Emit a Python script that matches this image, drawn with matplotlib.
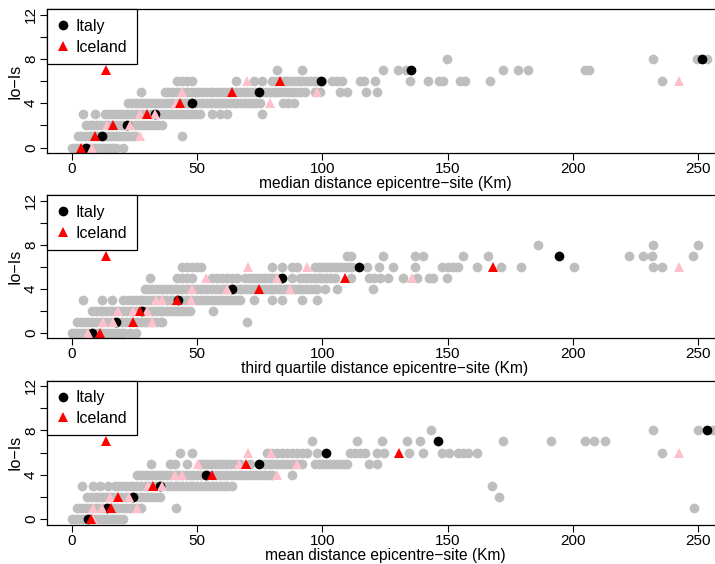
import matplotlib
matplotlib.use('Agg')
import matplotlib.pyplot as plt
from matplotlib.lines import Line2D

plt.rcParams['font.family'] = ['Liberation Sans', 'DejaVu Sans']

GRAY = '#BEBEBE'
PINK = '#FFC0CB'
RED = '#FF0000'

# --------------------------
# median distance panel
# --------------------------
# gray points, one list per Io-Is level (0..8)
median_gray = [
    [0, 1.2, 2.5, 3.8, 5, 6.3, 7.5, 8.8, 10, 11.3, 12.5, 13.8, 15, 16.3, 17.5, 20.5],
    [2.4, 3.7, 5, 6.2, 7.5, 8.8, 10, 11.3, 12.5, 13.8, 15, 16.3, 17.5, 18.8, 20, 21.3, 22.5, 23.8, 25, 44],
    [5.5, 7, 8.5, 10, 11.5, 13, 14.5, 16, 17.5, 19, 20.5, 22, 23.5, 25, 26.5, 28, 29.5, 31, 32.5, 34, 36],
    [4.4, 9.2, 13, 14.5, 16, 17.5, 19, 20.5, 22, 23.5, 25, 26.5, 28, 29.5, 31, 32.5, 34, 35.5, 37, 38.5,
     40, 41.5, 43, 44.5, 46, 47.5, 49, 51, 56, 59, 62, 76],
    [22.5, 24, 25.5, 27, 28.5, 30, 31.5, 33, 34.5, 36, 37.5, 39, 40.5, 42, 43.5, 45, 46.5, 48, 49.5, 51,
     52.5, 54, 55.5, 57, 58.5, 60, 61.5, 63, 64.5, 66, 67.5, 69, 70.5, 72, 73.5, 75, 84.3, 86.3, 88.7],
    [27.6, 37, 38.5, 40, 41.5, 43, 44.5, 46, 47.5, 49, 50.5, 52, 53.5, 55, 56.5, 58, 59.5, 61, 62.5, 64,
     65.5, 67, 68.5, 70, 71.5, 73, 74.5, 76, 77.5, 79, 80.5, 82, 83.5, 85, 86.5, 88, 89.5, 91, 93, 97, 99,
     107, 110, 117.4, 121.8],
    [42, 44, 46, 48, 65.5, 72.5, 76, 80, 81.5, 83, 84.5, 86, 87.5, 89, 90.5, 92, 93.5, 95, 96.5, 98, 100,
     104, 106, 108, 115, 116.5, 121, 135, 142, 146.5, 148, 155, 157, 167, 235.6],
    [82, 92, 124.4, 130.2, 133.5, 172, 178.3, 182, 205, 206.5],
    [149.8, 232, 249.6, 253.6],
]
median_italy_x = [5.6, 12, 22, 33, 48, 74.5, 99.3, 135.4, 251.6]
median_italy_y = [0, 1, 2, 3, 4, 5, 6, 7, 8]
median_iceland_x = [3.6, 9.2, 16.3, 30, 43, 64, 83, 13.6]
median_iceland_y = [0, 1, 2, 3, 4, 5, 6, 7]
median_pink_x = [8, 27, 14, 23, 27, 33, 41.5, 79, 43.8, 98, 70, 242.5]
median_pink_y = [0, 1, 2, 2, 3, 3, 4, 4, 5, 5, 6, 6]

# --------------------------
# third quartile panel
# --------------------------
q3_gray = [
    [0, 1.3, 2.6, 3.9, 5.2, 6.5, 7.8, 9.1, 10.4, 11.7, 13, 14.3, 15.6, 16.9, 18.2, 19.5, 20.8, 23, 25.6],
    [2, 3.5, 5, 6.5, 8, 9.5, 11, 12.5, 14, 15.5, 17, 18.5, 20, 21.5, 23, 24.5, 26, 27.5, 29, 30.5, 32,
     33.5, 35, 36, 70],
    [8, 9.5, 11, 12.5, 14, 15.5, 17, 18.5, 20, 21.5, 23, 24.5, 26, 27.5, 29, 30.5, 32, 33.5, 35, 36.5, 38,
     39.5, 41, 42.5, 44, 45.5, 47, 56.4],
    [4.4, 12, 16, 20.4, 22.5, 24, 25.5, 27, 28.5, 30, 31.5, 33, 34.5, 36, 37.5, 39, 40.5, 42, 43.5, 45,
     46.5, 48, 49.5, 51, 52.5, 54, 55.5, 57, 58.5, 60, 61.5, 63, 64.5, 66, 67, 72.5, 80, 84, 92, 98],
    [29, 30.5, 32, 33.5, 35, 36.5, 38, 39.5, 41, 42.5, 44, 45.5, 47, 48.5, 50, 51.5, 53, 54.5, 56, 57.5,
     59, 60.5, 62, 63.5, 65, 66.5, 68, 69.5, 71, 72.5, 74, 75.5, 77, 78.5, 80, 81.5, 83, 84.5, 86, 87.5,
     89, 90.5, 92, 93.5, 95, 96.5, 98, 101, 106, 120.4],
    [31, 42, 44, 46, 48, 56, 58, 60, 62, 64, 66, 69, 70.5, 72, 73.5, 75, 76.5, 78, 79.5, 81, 82.5, 88, 91,
     92.5, 94, 95.5, 97, 98.5, 100, 101.5, 103, 105, 111.5, 118.5, 120.5, 123, 126, 132, 137.7, 142.6,
     144, 149.8],
    [44, 46, 48, 50, 51.5, 80, 84, 88, 90, 97, 98.5, 100, 101.5, 103, 104.5, 106, 107.5, 109, 110.5, 112,
     117.8, 122.6, 128.2, 137, 147.8, 150, 152, 154.2, 161.7, 171.3, 179.3, 200.5, 232, 235.6],
    [110, 111.5, 124.2, 137, 140, 156, 166, 222.5, 228, 231.6, 248],
    [186, 232, 250],
]
q3_italy_x = [8, 17.6, 28, 42.5, 64, 84, 114.5, 194.5]
q3_italy_y = [0, 1, 2, 3, 4, 5, 6, 7]
q3_iceland_x = [11.2, 24.2, 27, 42, 74.7, 109, 168, 13.6]
q3_iceland_y = [0, 1, 2, 3, 4, 5, 6, 7]
q3_pink_x = [6.2, 12.3, 16.4, 32, 18.5, 24.5, 29.8, 33.5, 36, 47.6, 48, 61.8, 87, 53.5, 81.8, 135.7,
             70.4, 94, 242.4]
q3_pink_y = [0, 1, 1, 1, 2, 2, 2, 3, 3, 3, 4, 4, 4, 5, 5, 5, 6, 6, 6]

# --------------------------
# mean distance panel
# --------------------------
mean_gray = [
    [0, 1.2, 2.5, 3.8, 5, 6.3, 7.5, 8.8, 10, 11.3, 12.5, 13.8, 15, 16.3, 17.5, 18.8, 20.2],
    [2, 3.5, 5, 6.5, 8, 9.5, 11, 12.5, 14, 15.5, 17, 18.5, 20, 21.5, 23, 24.5, 26, 27.5, 41.5, 248.4],
    [6, 7.5, 9, 10.5, 12, 13.5, 15, 16.5, 18, 19.5, 21, 22.5, 24, 25.5, 27, 28.5, 30, 31.5, 33, 35, 170.5],
    [4, 8.5, 11.2, 14.4, 17, 18.5, 20, 21.5, 23, 24.5, 26, 27.5, 29, 30.5, 32, 33.5, 35, 36.5, 38, 39.5,
     41, 42.5, 44, 45.5, 47, 48.5, 50, 51.5, 53, 54.5, 56, 57.5, 59, 60.5, 62, 64, 167.7],
    [26, 27.5, 29, 30.5, 32, 33.5, 35, 36.5, 38, 39.5, 41, 42.5, 44, 45.5, 47, 48.5, 50, 51.5, 53, 54.5,
     56, 57.5, 59, 60.5, 62, 63.5, 65, 66.5, 68, 69.5, 71, 72.5, 74, 75.5, 77, 78.5, 80, 88],
    [31.5, 39, 41, 46, 51, 52.5, 54, 55.5, 57, 58.5, 60, 61.5, 63, 65, 67, 71, 77, 78.5, 80, 81.5, 83,
     84.5, 86, 87.5, 89, 90.5, 92, 97, 98.5, 100, 101.5, 103, 104.5, 106, 107.5, 109, 110, 118.6, 121.8],
    [43, 48, 78, 80, 82, 84, 86, 88, 90, 92, 94, 98, 111, 113, 115, 117, 121.8, 124.6, 134.6, 140, 147.8,
     150.6, 154, 156, 158, 161.7, 235.6],
    [96, 114, 124, 133.8, 139, 172, 191.3, 205, 208.5, 213],
    [143.4, 232, 250, 256],
]
mean_italy_x = [6.5, 14, 24.5, 35, 53.4, 74.5, 101.4, 146.2, 253.6]
mean_italy_y = [0, 1, 2, 3, 4, 5, 6, 7, 8]
mean_iceland_x = [7.6, 15.6, 18.3, 32.5, 56, 69.4, 130.6, 13.6]
mean_iceland_y = [0, 1, 2, 3, 4, 5, 6, 7]
mean_pink_x = [8.5, 8.5, 12, 26, 15.2, 22.8, 30.4, 36, 41, 43.9, 81.8, 50.3, 66.7, 90, 70.4, 79.6, 242.4]
mean_pink_y = [0, 1, 1, 1, 2, 2, 3, 3, 4, 4, 4, 5, 5, 5, 6, 6, 6]

x_labels = ['median distance epicentre\u2212site (Km)',
            'third quartile distance epicentre\u2212site (Km)',
            'mean distance epicentre\u2212site (Km)']

panels = [
    (median_gray, median_italy_x, median_italy_y, median_iceland_x, median_iceland_y, median_pink_x, median_pink_y),
    (q3_gray, q3_italy_x, q3_italy_y, q3_iceland_x, q3_iceland_y, q3_pink_x, q3_pink_y),
    (mean_gray, mean_italy_x, mean_italy_y, mean_iceland_x, mean_iceland_y, mean_pink_x, mean_pink_y),
]

# axes rectangles in figure fraction (right edge runs past the figure, as in the original crop)
bottoms = [0.7290, 0.4001, 0.0700]
heights = [0.2544, 0.2535, 0.2553]
left = 47 / 715
width = 676 / 715

fig = plt.figure(figsize=(7.15, 5.64), dpi=100)

circ_ms = 7.0
tri_ms = 7.6

for i, (gray, it_x, it_y, ic_x, ic_y, pk_x, pk_y) in enumerate(panels):
    ax = fig.add_axes([left, bottoms[i], width, heights[i]])

    gx = []
    gy = []
    for level, xs in enumerate(gray):
        gx += xs
        gy += [level] * len(xs)

    ax.plot(gx, gy, 'o', color=GRAY, markersize=circ_ms, markeredgewidth=0, clip_on=False)
    ax.plot(it_x, it_y, 'o', color='black', markersize=circ_ms, markeredgewidth=0)
    ax.plot(pk_x, pk_y, '^', color=PINK, markersize=tri_ms, markeredgewidth=0)
    ax.plot(ic_x, ic_y, '^', color=RED, markersize=tri_ms, markeredgewidth=0)

    ax.set_xlim(-10, 260)
    ax.set_ylim(-0.48, 12.48)
    ax.set_xticks([0, 50, 100, 150, 200, 250])
    ax.set_yticks([0, 2, 4, 6, 8, 10, 12])
    ax.set_yticklabels(['0', '', '4', '', '8', '', '12'], rotation=90, va='center')
    ax.tick_params(axis='both', direction='out', length=5, width=0.8, labelsize=11)
    ax.tick_params(axis='x', pad=1.5)
    ax.tick_params(axis='y', pad=1.5)
    for sp in ax.spines.values():
        sp.set_linewidth(0.9)

    ax.set_xlabel(x_labels[i], fontsize=11.2, labelpad=0)
    ax.set_ylabel('Io\u2212Is', fontsize=11.5, labelpad=1)

    handles = [
        Line2D([], [], marker='o', linestyle='none', color='black', markersize=circ_ms, markeredgewidth=0),
        Line2D([], [], marker='^', linestyle='none', color=RED, markersize=tri_ms, markeredgewidth=0),
    ]
    leg = ax.legend(handles, ['Italy', 'Iceland'], loc='upper left', borderaxespad=0, fancybox=False,
                    framealpha=1, edgecolor='black', fontsize=11.5, handlelength=0.8, handletextpad=0.4,
                    borderpad=0.6, labelspacing=0.35)
    leg.get_frame().set_linewidth(0.9)

fig.savefig('out.png', dpi=100)
